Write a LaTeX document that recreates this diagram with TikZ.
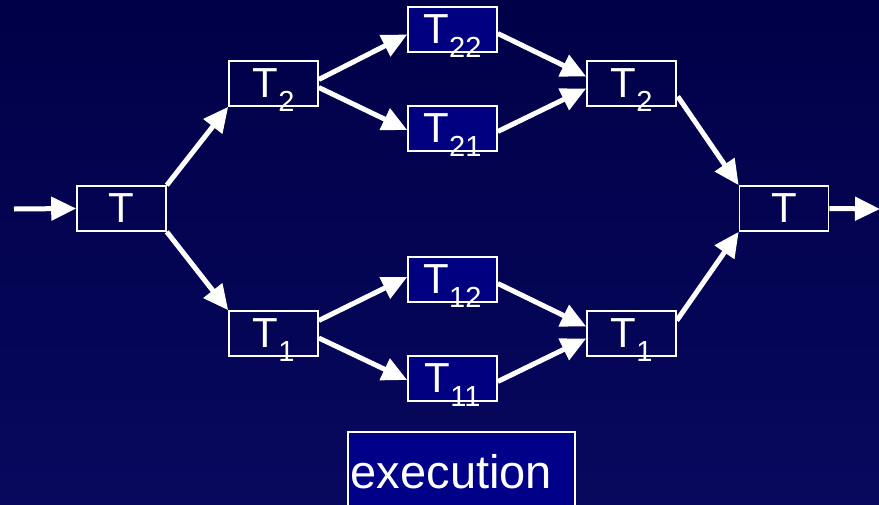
\documentclass[tikz,border=0pt]{standalone}
\usepackage{fontspec}
\setmainfont{Liberation Sans}
\usetikzlibrary{arrows.meta,calc}
\definecolor{bgtop}{HTML}{000048}
\definecolor{bgbot}{HTML}{08085E}
\definecolor{boxnavy}{HTML}{000080}
\definecolor{execnavy}{HTML}{000088}
\newcommand{\tsub}[1]{T\smash{\raisebox{-14pt}{\fontsize{29}{29}\selectfont #1}}}
\tikzset{
  x=1pt, y=1pt,
  taskbox/.style={draw=white, line width=1.6pt, minimum width=89pt, minimum height=45pt,
    inner sep=0pt, text=white, font=\fontsize{42}{42}\selectfont},
  subbox/.style={taskbox, fill=boxnavy},
  flow/.style={draw=white, line width=5pt, -{Triangle[length=25pt,width=23pt]}},
}
\begin{document}
\begin{tikzpicture}
\useasboundingbox (0,0) rectangle (879,-504);
\clip (0,0) rectangle (879,-504);
\shade[top color=bgtop, bottom color=bgbot] (0,0) rectangle (879,-504);

\node[taskbox] (T)   at (121.5,-208.5) {T};
\node[taskbox] (T2a) at (273.5,-83.5)  {\tsub{2}};
\node[taskbox] (T1a) at (273.5,-333.5) {\tsub{1}};
\node[subbox]  (T22) at (452.5,-29.5)  {\tsub{22}};
\node[subbox]  (T21) at (452.5,-128.5) {\tsub{21}};
\node[subbox]  (T12) at (452.5,-279.5) {\tsub{12}};
\node[subbox]  (T11) at (452.5,-378.5) {\tsub{11}};
\node[taskbox] (T2b) at (631.5,-83.5)  {\tsub{2}};
\node[taskbox] (T1b) at (631.5,-333.5) {\tsub{1}};
\node[taskbox] (Tb)  at (784,-208.5)   {T};

\node[draw=white, line width=1.6pt, fill=execnavy, text=white, anchor=north west,
  minimum width=227pt, minimum height=80pt, inner xsep=3pt, inner ysep=0pt,
  text width=221pt, align=left, font=\fontsize{47}{47}\selectfont]
  (exec) at (347,-431) {execution};

\coordinate (in) at (14,-209);
\coordinate (out) at (880,-209);

\draw[flow] (in) -- (T.west);
\draw[flow] (T.north east) -- (T2a.south west);
\draw[flow] (T.south east) -- (T1a.north west);
\draw[flow] ($(T2a.east)+(0,4)$) -- ($(T22.west)+(0,-5)$);
\draw[flow] ($(T2a.east)+(0,-4)$) -- ($(T21.west)+(0,-1.5)$);
\draw[flow] ($(T1a.east)+(0,13)$) -- ($(T12.west)+(0,2.5)$);
\draw[flow] ($(T1a.east)+(0,-4.5)$) -- ($(T11.west)+(0,-1.5)$);
\draw[flow] ($(T22.east)+(0,-4)$) -- ($(T2b.west)+(0,7)$);
\draw[flow] ($(T21.east)+(0,-3)$) -- ($(T2b.west)+(0,-5)$);
\draw[flow] ($(T12.east)+(0,-4)$) -- ($(T1b.west)+(0,7)$);
\draw[flow] ($(T11.east)+(0,-3)$) -- ($(T1b.west)+(0,-5)$);
\draw[flow] ($(T2b.east)+(1,-13)$) -- (Tb.north west);
\draw[flow] ($(T1b.east)+(0,13)$) -- (Tb.south west);
\draw[flow] (Tb.east) -- (out);
\end{tikzpicture}
\end{document}
